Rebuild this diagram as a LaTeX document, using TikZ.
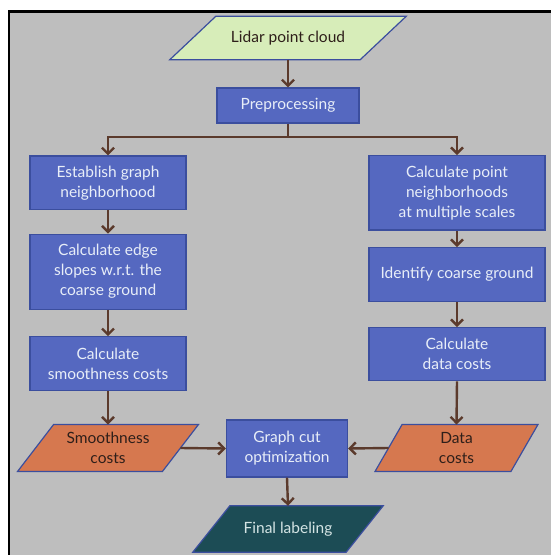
\documentclass[tikz,border=0pt]{standalone}
\usepackage{fontspec}
\setmainfont{Lato}
\usetikzlibrary{arrows.meta}
\pgfdeclarelayer{back}
\pgfdeclarelayer{shapes}
\pgfsetlayers{back,shapes,main}
\definecolor{bggray}{HTML}{BEBEBE}
\definecolor{boxblue}{HTML}{5568C0}
\definecolor{boxedge}{HTML}{3B4E9E}
\definecolor{lgreen}{HTML}{D7EDB9}
\definecolor{orng}{HTML}{D6784F}
\definecolor{darkteal}{HTML}{1C4C55}
\definecolor{arrowbrown}{HTML}{5B3A2C}
\definecolor{bluetext}{HTML}{E8EEF8}
\definecolor{darktext}{HTML}{2E1F1A}
\definecolor{tealtext}{HTML}{D4E4E4}
\newcommand\myparadraw[3]{%
  \begin{pgfonlayer}{shapes}
  \draw[fill=#3, draw=boxedge, line width=1.2pt]
    ([xshift=#2]#1.north west) -- ([xshift=#2]#1.north east) --
    ([xshift=-#2]#1.south east) -- ([xshift=-#2]#1.south west) -- cycle;
  \end{pgfonlayer}}
\tikzset{
  txt/.style={font=\fontsize{15.5}{20}\selectfont, align=center, inner sep=0pt},
  proc/.style={txt, draw=boxedge, line width=1.2pt, fill=boxblue, text=bluetext},
  io/.style={txt, text=darktext},
  conn/.style={draw=arrowbrown, line width=2.4pt, -{Straight Barb[length=6pt,width=12pt]}},
}
\begin{document}
\begin{tikzpicture}[x=1pt,y=-1pt]
\useasboundingbox (0,0) rectangle (551,555);
\begin{pgfonlayer}{back}
\fill[white] (0,0) rectangle (551,555);
\fill[bggray] (9,11.5) rectangle (551,555);
\draw[black, line width=2.5pt] (9,556) -- (9,11.5) -- (552,11.5);
\end{pgfonlayer}

% input
\node[io, minimum width=190pt, minimum height=43pt] (lidar) at (288,38) {Lidar point cloud};
\myparadraw{lidar}{23pt}{lgreen}

\node[proc, minimum width=142pt, minimum height=35pt] (pre) at (288,105.5) {Preprocessing};
\coordinate (split) at (288,137);

% left column
\node[proc, minimum width=156pt, minimum height=53.5pt] (est) at (108,182.75) {Establish graph\\neighborhood};
\node[proc, minimum width=156pt, minimum height=75pt] (edge) at (108,271.7) {Calculate edge\\slopes w.r.t. the\\coarse ground};
\node[proc, minimum width=156pt, minimum height=54pt] (smc) at (108,363.8) {Calculate\\smoothness costs};
\node[io, minimum width=144.5pt, minimum height=46.5pt] (smooth) at (108,448) {Smoothness\\costs};
\myparadraw{smooth}{18pt}{orng}

% right column
\node[proc, minimum width=176pt, minimum height=74.3pt] (pts) at (457,192.8) {Calculate point\\neighborhoods\\at multiple scales};
\node[proc, minimum width=176pt, minimum height=54pt] (ident) at (457,274.7) {Identify coarse ground};
\node[proc, minimum width=176pt, minimum height=53pt] (datac) at (457,354.2) {Calculate\\data costs};
\node[io, minimum width=135.5pt, minimum height=46.5pt] (data) at (456.5,448) {Data\\costs};
\myparadraw{data}{13.5pt}{orng}

% bottom
\node[proc, minimum width=121pt, minimum height=57pt] (gc) at (287,448.5) {Graph cut\\optimization};
\node[txt, text=tealtext, minimum width=153pt, minimum height=46pt] (final) at (288,529) {Final labeling};
\myparadraw{final}{18.5pt}{darkteal}

% connectors
\draw[conn] (lidar.south) -- (pre.north);
\draw[conn] (pre.south) -- (split) -| (est.north);
\draw[conn] (split) -| (pts.north);
\draw[conn] (est.south) -- (edge.north);
\draw[conn] (edge.south) -- (smc.north);
\draw[conn] (smc.south) -- (smooth.north);
\draw[conn] (pts.south) -- (ident.north);
\draw[conn] (ident.south) -- (datac.north);
\draw[conn] (datac.south) -- (data.north);
\draw[conn] (smooth.east) -- (gc.west);
\draw[conn] (data.west) -- (gc.east);
\draw[conn] (gc.south) -- (final.north);
\end{tikzpicture}
\end{document}
